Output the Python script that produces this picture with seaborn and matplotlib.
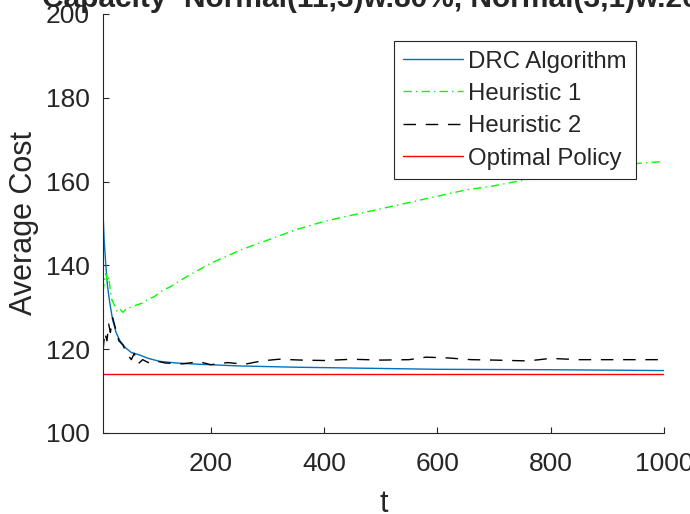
import matplotlib

matplotlib.use("Agg")

import matplotlib.pyplot as plt
import pandas as pd
import seaborn as sns

# values
drc_t = [10, 12, 15, 18, 22, 27, 33, 40, 50, 60, 75, 90, 110, 140, 180, 250, 350, 450, 600, 800, 1000]
drc_cost = [152.6, 146.0, 140.0, 135.0, 131.0, 127.0, 124.0, 122.0, 120.3, 119.2, 118.6, 117.8, 117.1, 116.7,
            116.4, 116.0, 115.7, 115.5, 115.2, 115.1, 114.9]

h1_t = [10, 13, 15, 18, 20, 23, 25, 30, 35, 40, 45, 52, 60, 70, 80, 90, 100, 115, 130, 145, 160, 180, 200, 225,
        250, 275, 300, 350, 400, 450, 500, 550, 600, 650, 700, 750, 800, 850, 900, 950, 1000]
h1_cost = [133.6, 137.0, 138.0, 136.0, 137.2, 134.0, 132.0, 130.5, 129.0, 129.6, 128.8, 129.8, 130.0, 130.6,
           131.0, 132.0, 132.5, 134.0, 135.0, 136.3, 137.5, 139.0, 140.5, 142.0, 143.5, 144.8, 146.0, 148.5,
           150.5, 152.0, 153.5, 155.0, 156.5, 158.0, 159.0, 160.3, 161.5, 162.5, 163.5, 164.3, 164.8]

h2_t = [10, 13, 17, 20, 23, 27, 32, 38, 45, 52, 60, 65, 72, 80, 90, 100, 120, 150, 180, 200, 230, 260, 290, 320,
        360, 400, 450, 500, 550, 580, 620, 660, 700, 760, 800, 850, 900, 1000]
h2_cost = [119.5, 124.0, 122.0, 126.0, 124.0, 127.5, 125.0, 122.0, 121.0, 119.0, 117.5, 119.0, 116.5, 117.5,
           116.8, 117.3, 116.7, 116.5, 117.0, 116.3, 116.8, 116.4, 117.2, 117.6, 117.4, 117.3, 117.6, 117.4,
           117.5, 118.1, 117.9, 117.5, 117.4, 117.2, 117.8, 117.5, 117.5, 117.5]

opt_t = [10, 1000]
opt_cost = [114.0, 114.0]

x_ticks = [200, 400, 600, 800, 1000]
y_ticks = [100, 120, 140, 160, 180, 200]

title = "Capacity~Normal(11,3)w.80%, Normal(3,1)w.20%"

sns.set_style("ticks")
plt.rcParams["font.family"] = ["Liberation Sans", "DejaVu Sans"]

fig = plt.figure(figsize=(6.9, 5.14), dpi=100)
ax = fig.add_axes([0.1493, 0.1576, 0.813, 0.8152])

drc = pd.DataFrame({"t": drc_t, "cost": drc_cost})
h1 = pd.DataFrame({"t": h1_t, "cost": h1_cost})
h2 = pd.DataFrame({"t": h2_t, "cost": h2_cost})
opt = pd.DataFrame({"t": opt_t, "cost": opt_cost})

sns.lineplot(data=drc, x="t", y="cost", ax=ax, color="#0072BD", linewidth=1.0, label="DRC Algorithm")
sns.lineplot(data=h1, x="t", y="cost", ax=ax, color="#00FF00", linewidth=1.0,
             linestyle=(0, (6, 3, 1, 3)), label="Heuristic 1")
sns.lineplot(data=h2, x="t", y="cost", ax=ax, color="black", linewidth=1.0,
             linestyle=(0, (9, 7)), label="Heuristic 2")
sns.lineplot(data=opt, x="t", y="cost", ax=ax, color="#FF0000", linewidth=1.0, label="Optimal Policy")

ax.set_xlim(10, 1000)
ax.set_ylim(100, 200)
ax.set_xticks(x_ticks)
ax.set_yticks(y_ticks)
ax.tick_params(direction="in", length=4.3, width=0.8, colors="#262626", labelsize=19)
ax.tick_params(axis="y", pad=9.5)
ax.tick_params(axis="x", pad=14)
for side in ["top", "right"]:
    ax.spines[side].set_visible(False)
for side in ["left", "bottom"]:
    ax.spines[side].set_color("#262626")
    ax.spines[side].set_linewidth(0.8)

ax.set_xlabel("t", fontsize=22, color="#262626", labelpad=9)
ax.set_ylabel("Average Cost", fontsize=22, color="#262626", labelpad=5)
ax.set_title(title, fontsize=21.5, fontweight="bold", pad=5)

leg = ax.legend(loc="upper right", bbox_to_anchor=(0.950, 0.9356), borderaxespad=0, fontsize=17.3,
                handlelength=2.5, handletextpad=0.18, labelspacing=0.43, borderpad=0.4,
                frameon=True, fancybox=False, framealpha=1)
leg.get_frame().set_edgecolor("#262626")
leg.get_frame().set_linewidth(0.8)

fig.savefig("out.png", dpi=100)
